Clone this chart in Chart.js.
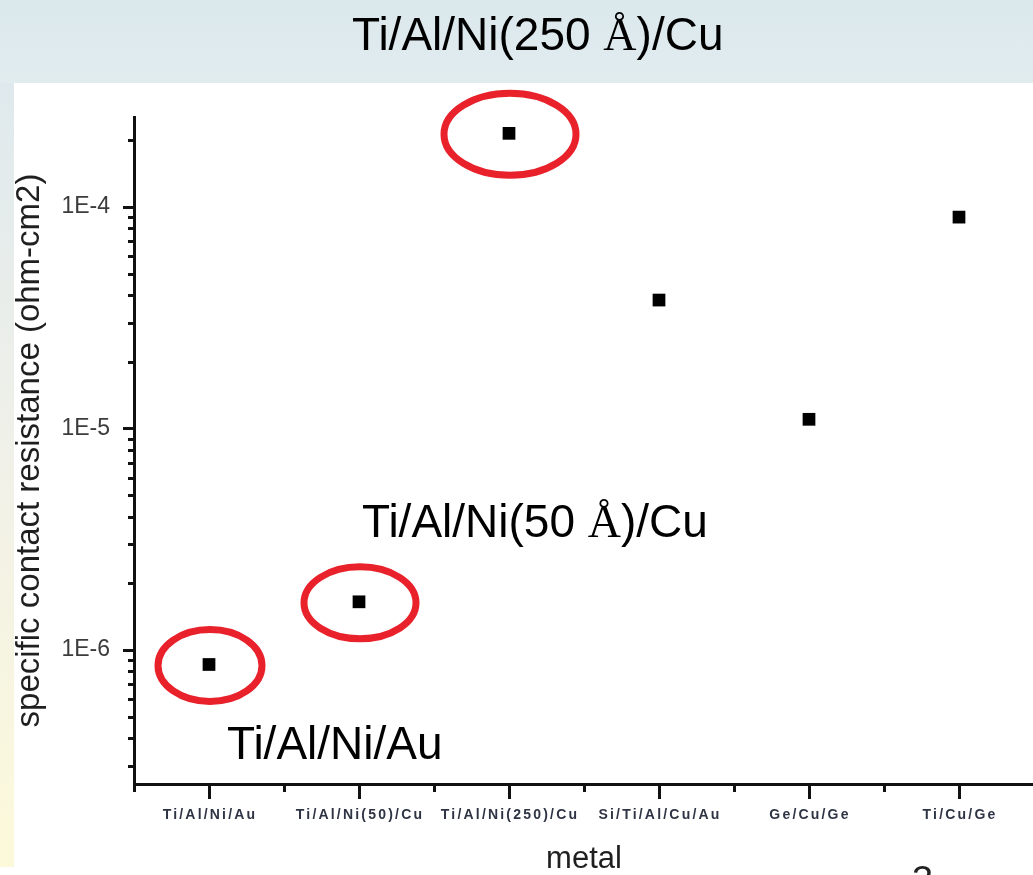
<!DOCTYPE html>
<html>
<head>
<meta charset="utf-8">
<style>
  html, body { margin: 0; padding: 0; width: 1033px; height: 875px; overflow: hidden; background: #fff; }
  #band { position: absolute; left: 0; top: 0; width: 1033px; height: 83px; background: linear-gradient(#dbe8ec, #e1ecef); }
  #strip { position: absolute; left: 0; top: 83px; width: 14px; height: 784px; background: linear-gradient(#dfe9ed, #f1f1e8 50%, #fcf9da); }
  #wrap { position: absolute; left: 0; top: 0; width: 1043px; height: 875px; }
</style>
</head>
<body>
<div id="band"></div>
<div id="strip"></div>
<div id="wrap"><canvas id="myChart" width="1043" height="875"></canvas></div>

<script src="https://cdn.jsdelivr.net/npm/chart.js"></script>
<script>
  // data
  const metals = ['Ti/Al/Ni/Au', 'Ti/Al/Ni(50)/Cu', 'Ti/Al/Ni(250)/Cu', 'Si/Ti/Al/Cu/Au', 'Ge/Cu/Ge', 'Ti/Cu/Ge'];
  const resistance = [8.6e-7, 1.65e-6, 2.15e-4, 3.8e-5, 1.1e-5, 9.0e-5];
  const yTickValues = [1e-6, 1e-5, 1e-4];
  const yTickLabels = ['1E-6', '1E-5', '1E-4'];
  const circled = [0, 1, 2];

  const SANS = '"Liberation Sans", Arial, sans-serif';
  const SERIF = '"Liberation Serif", "DejaVu Serif", serif';

  // ring size around the circled points (px)
  const ringRx = [52, 56, 66];
  const ringRy = [36, 36, 41];

  function richText(ctx, parts, x, y) {
    for (const p of parts) {
      ctx.font = p[1];
      ctx.fillText(p[0], x, y);
      x += ctx.measureText(p[0]).width;
    }
  }

  const slidePlugin = {
    id: 'slide',
    afterDraw(chart) {
      const ctx = chart.ctx;
      const xs = chart.scales.x, ys = chart.scales.y;
      ctx.save();

      // tick marks, major and minor
      ctx.strokeStyle = '#111';
      ctx.lineWidth = 3;
      ctx.beginPath();
      for (let v = xs.min; v <= xs.max + 1e-9; v += 0.5) {
        const px = Math.round(xs.getPixelForValue(v)) + 0.5;
        const len = Number.isInteger(v) ? 15 : 8;
        ctx.moveTo(px, xs.top);
        ctx.lineTo(px, xs.top + len);
      }
      for (let e = -8; e <= -3; e++) {
        for (let k = 1; k <= 9; k++) {
          const v = k * Math.pow(10, e);
          if (v < ys.min || v > ys.max) continue;
          const py = Math.round(ys.getPixelForValue(v)) + 0.5;
          const len = k === 1 ? 11 : 6;
          ctx.moveTo(ys.right, py);
          ctx.lineTo(ys.right - len, py);
        }
      }
      ctx.stroke();

      // category labels under the axis
      ctx.fillStyle = '#2e3444';
      ctx.font = 'bold 14px ' + SANS;
      ctx.letterSpacing = '2.2px';
      ctx.textAlign = 'center';
      ctx.textBaseline = 'top';
      metals.forEach((m, i) => {
        ctx.fillText(m, xs.getPixelForValue(i) + 1, xs.top + 24);
      });
      ctx.letterSpacing = '0px';

      // red rings
      const pts = chart.getDatasetMeta(0).data;
      ctx.strokeStyle = '#e8212b';
      ctx.lineWidth = 7;
      circled.forEach((idx, j) => {
        const p = pts[idx];
        ctx.beginPath();
        ctx.ellipse(p.x + 1, p.y + 1, ringRx[j], ringRy[j], 0, 0, Math.PI * 2);
        ctx.stroke();
      });

      // slide text boxes
      ctx.fillStyle = '#000';
      ctx.textAlign = 'left';
      ctx.textBaseline = 'alphabetic';
      const big = '46px ' + SANS, bigSerif = '46px ' + SERIF;
      richText(ctx, [['Ti/Al/Ni(250 ', big], ['Å', bigSerif], [')/Cu', big]], 352, 50);
      richText(ctx, [['Ti/Al/Ni(50 ', big], ['Å', bigSerif], [')/Cu', big]], 362, 537);
      richText(ctx, [['Ti/Al/Ni/Au', big]], 227, 759);
      ctx.fillStyle = '#222';
      richText(ctx, [['3', '38px ' + SANS]], 912, 893);

      ctx.restore();
    }
  };

  const config = {
    type: 'scatter',
    data: {
      datasets: [{
        label: 'specific contact resistance',
        data: metals.map((m, i) => ({ x: i, y: resistance[i] })),
        pointStyle: 'rect',
        pointRadius: 9,
        pointHoverRadius: 9,
        backgroundColor: '#000',
        borderWidth: 0
      }]
    },
    options: {
      responsive: false,
      animation: false,
      events: [],
      layout: { padding: { top: 117, right: 2, left: 0, bottom: 0 } },
      plugins: { legend: { display: false }, tooltip: { enabled: false } },
      scales: {
        x: {
          type: 'linear',
          min: -0.5,
          max: 5.5,
          grid: { display: false, drawTicks: false },
          border: { color: '#111', width: 3 },
          ticks: { display: false },
          title: {
            display: true,
            text: 'metal',
            color: '#1f1f1f',
            font: { family: SANS, size: 31, lineHeight: 1 },
            padding: { top: 0, bottom: 0 }
          },
          afterFit: s => { s.height = 91; }
        },
        y: {
          type: 'logarithmic',
          min: 2.483e-7,
          max: 2.548e-4,
          grid: { display: false, drawTicks: false },
          border: { color: '#111', width: 3 },
          afterBuildTicks: s => { s.ticks = yTickValues.map(v => ({ value: v })); },
          ticks: {
            autoSkip: false,
            padding: 24,
            color: '#3c3c3c',
            font: { family: SANS, size: 23 },
            callback: v => {
              const i = yTickValues.findIndex(t => Math.abs(t - v) / t < 1e-6);
              return i >= 0 ? yTickLabels[i] : '';
            }
          },
          title: {
            display: true,
            text: 'specific contact resistance (ohm-cm2)',
            color: '#1f1f1f',
            font: { family: SANS, size: 33, lineHeight: 1 },
            padding: { top: 13, bottom: 0 }
          },
          afterFit: s => { s.width = 134; }
        }
      }
    },
    plugins: [slidePlugin]
  };

  const myChart = new Chart(document.getElementById('myChart'), config);
</script>
</body>
</html>
